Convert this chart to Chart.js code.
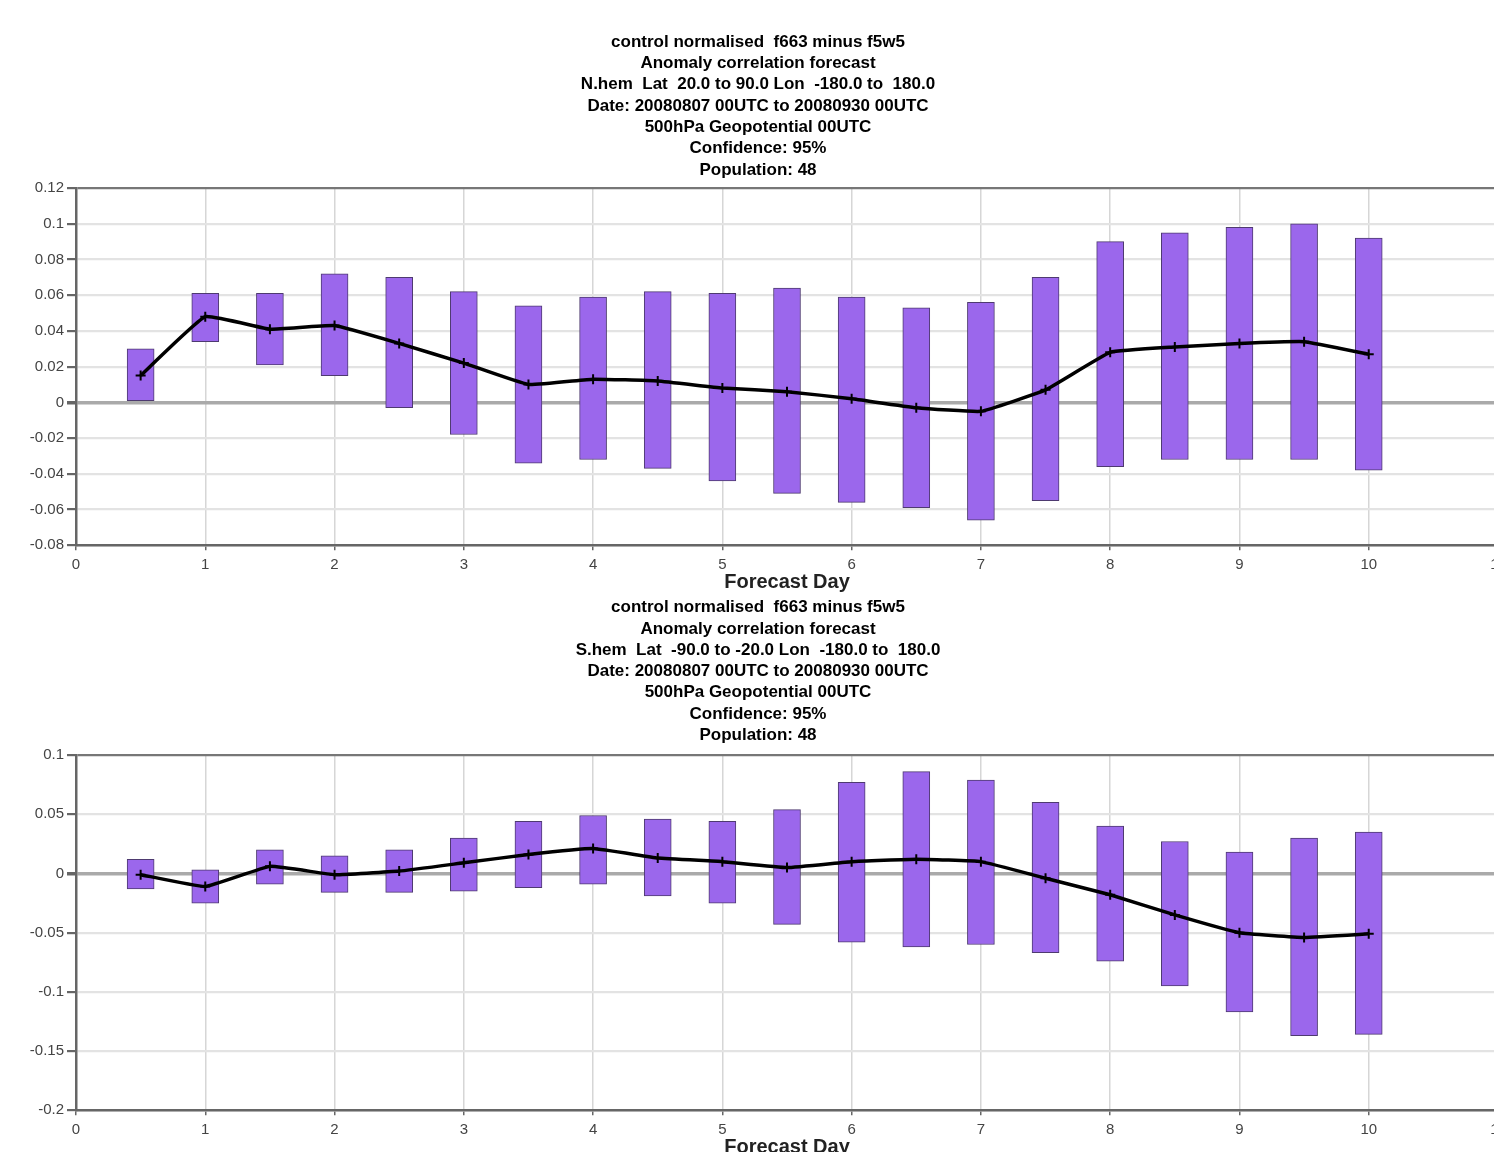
<!DOCTYPE html>
<html>
  <head>
    <title>Anomaly correlation forecast</title>
    <script src="https://cdn.jsdelivr.net/npm/chart.js"></script>
    <style>
      body { margin: 0; overflow: hidden; background: #fff; }
      .panel { position: absolute; left: 0; width: 1512px; }
    </style>
  </head>
  <body>
    <div class="panel" style="top:0px;height:598px"><canvas id="nhem"></canvas></div>
    <div class="panel" style="top:590px;height:573px"><canvas id="shem"></canvas></div>

    <script>
      const days = [0.5, 1, 1.5, 2, 2.5, 3, 3.5, 4, 4.5, 5, 5.5, 6, 6.5, 7, 7.5, 8, 8.5, 9, 9.5, 10];

      // northern hemisphere
      const nhemHigh = [0.030, 0.061, 0.061, 0.072, 0.070, 0.062, 0.054, 0.059, 0.062, 0.061,
                        0.064, 0.059, 0.053, 0.056, 0.070, 0.090, 0.095, 0.098, 0.100, 0.092];
      const nhemLow = [0.000, 0.034, 0.021, 0.015, -0.003, -0.018, -0.034, -0.032, -0.037, -0.044,
                       -0.051, -0.056, -0.059, -0.066, -0.055, -0.036, -0.032, -0.032, -0.032, -0.038];
      const nhemMean = [0.015, 0.048, 0.041, 0.043, 0.033, 0.022, 0.010, 0.013, 0.012, 0.008,
                        0.006, 0.002, -0.003, -0.005, 0.007, 0.028, 0.031, 0.033, 0.034, 0.027];

      // southern hemisphere
      const shemHigh = [0.012, 0.003, 0.020, 0.015, 0.020, 0.030, 0.044, 0.049, 0.046, 0.044,
                        0.054, 0.077, 0.086, 0.079, 0.060, 0.040, 0.027, 0.018, 0.030, 0.035];
      const shemLow = [-0.013, -0.025, -0.009, -0.016, -0.016, -0.015, -0.012, -0.009, -0.019, -0.025,
                       -0.043, -0.058, -0.062, -0.060, -0.067, -0.074, -0.095, -0.117, -0.137, -0.136];
      const shemMean = [-0.001, -0.011, 0.006, -0.001, 0.002, 0.009, 0.016, 0.021, 0.013, 0.010,
                        0.005, 0.010, 0.012, 0.010, -0.004, -0.018, -0.035, -0.050, -0.054, -0.051];

      const nhemTitle = [
        "control normalised  f663 minus f5w5",
        "Anomaly correlation forecast",
        "N.hem  Lat  20.0 to 90.0 Lon  -180.0 to  180.0",
        "Date: 20080807 00UTC to 20080930 00UTC",
        "500hPa Geopotential 00UTC",
        "Confidence: 95%",
        "Population: 48",
      ];
      const shemTitle = [
        "control normalised  f663 minus f5w5",
        "Anomaly correlation forecast",
        "S.hem  Lat  -90.0 to -20.0 Lon  -180.0 to  180.0",
        "Date: 20080807 00UTC to 20080930 00UTC",
        "500hPa Geopotential 00UTC",
        "Confidence: 95%",
        "Population: 48",
      ];

      const fontFamily = "'Liberation Sans', Arial, sans-serif";

      function makeChart(id, title, mean, low, high, yMin, yMax, yStep, titlePad) {
        const ctx = document.getElementById(id).getContext("2d");
        return new Chart(ctx, {
          type: "bar",
          data: {
            datasets: [
              {
                type: "line",
                order: 0,
                data: days.map((d, i) => ({ x: d, y: mean[i] })),
                borderColor: "#000",
                borderWidth: 3.5,
                tension: 0.1,
                pointStyle: "cross",
                pointRadius: 5,
                pointBorderWidth: 2,
                pointBorderColor: "#000",
              },
              {
                order: 1,
                data: days.map((d, i) => ({ x: d, y: [low[i], high[i]] })),
                backgroundColor: "#9b67ec",
                borderColor: "#4e3a70",
                borderWidth: 1,
                borderSkipped: false,
                barThickness: 27,
              },
            ],
          },
          options: {
            responsive: true,
            maintainAspectRatio: false,
            animation: false,
            layout: { padding: { left: 18, right: 14 } },
            plugins: {
              legend: { display: false },
              tooltip: { enabled: false },
              title: {
                display: true,
                text: title,
                color: "#000",
                font: { family: fontFamily, size: 17, weight: "bold", lineHeight: 1.253 },
                padding: titlePad,
              },
            },
            scales: {
              x: {
                type: "linear",
                min: 0,
                max: 11,
                offset: false,
                ticks: {
                  stepSize: 1,
                  color: "#444",
                  padding: 6,
                  font: { family: fontFamily, size: 15 },
                },
                grid: { offset: false, color: "#d6d6d6", lineWidth: 1.5, tickLength: 5, tickColor: "#666" },
                border: { color: "#666", width: 2.5 },
                title: {
                  display: true,
                  text: "Forecast Day",
                  color: "#222",
                  font: { family: fontFamily, size: 20, weight: "bold", lineHeight: 1.14 },
                  padding: { top: -9.5, bottom: 4.5 },
                },
              },
              y: {
                min: yMin,
                max: yMax,
                afterFit: (scale) => { scale.width = 58; },
                ticks: {
                  stepSize: yStep,
                  color: "#444",
                  padding: 3,
                  font: { family: fontFamily, size: 15 },
                  callback: (v) => String(parseFloat(v.toFixed(3))),
                },
                grid: {
                  color: (c) => {
                    const v = c.tick.value;
                    if (Math.abs(v) < 1e-9) return "#aaaaaa";
                    if (Math.abs(v - yMax) < 1e-9) return "#777";
                    return "#e3e3e3";
                  },
                  lineWidth: (c) => (Math.abs(c.tick.value) < 1e-9 ? 3.5 : 2.2),
                  tickLength: 9,
                  tickColor: "#666",
                },
                border: { color: "#666", width: 2.5 },
              },
            },
          },
        });
      }

      makeChart("nhem", nhemTitle, nhemMean, nhemLow, nhemHigh, -0.08, 0.12, 0.02, { top: 31.5, bottom: 7.5 });
      makeChart("shem", shemTitle, shemMean, shemLow, shemHigh, -0.2, 0.1, 0.05, { top: 6.9, bottom: 9.1 });
    </script>
  </body>
</html>
